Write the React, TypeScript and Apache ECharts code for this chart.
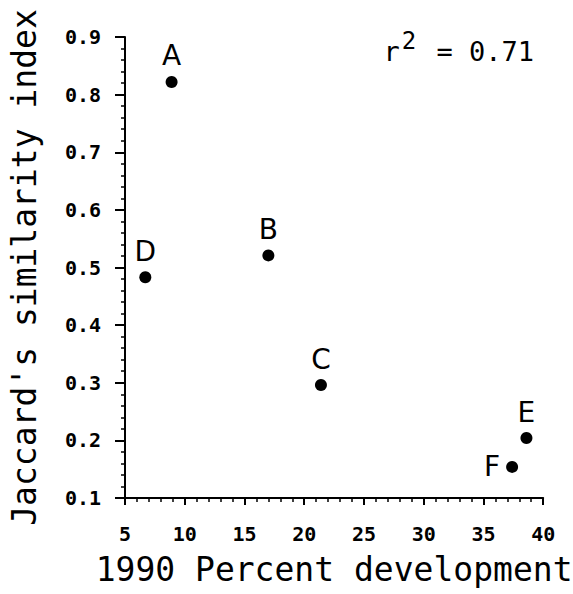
import React, { useEffect, useRef } from "react";
import * as echarts from "echarts";

const siteNames = ["A", "B", "C", "D", "E", "F"];
const percentDevelopment = [8.9, 17.0, 21.4, 6.7, 38.6, 37.4];
const jaccardIndex = [0.822, 0.521, 0.296, 0.483, 0.204, 0.154];
const labelSides = ["top", "top", "top", "top", "top", "left"];
const rSquaredText = "0.71";

const FONT = "'DejaVu Sans', sans-serif";
const MONO = "'DejaVu Sans Mono', monospace";

export default function App() {
  const ref = useRef<HTMLDivElement>(null);
  useEffect(() => {
    document.body.style.margin = "0";
    const chart = echarts.init(ref.current!, null, { renderer: "svg" });
    const data = siteNames.map((n, i) => ({
      name: n,
      value: [percentDevelopment[i], jaccardIndex[i]],
      label: { position: labelSides[i] as any },
    }));
    chart.setOption({
      animation: false,
      backgroundColor: "#fff",
      title: {
        text: "{a|r}{b|2}{a| = " + rSquaredText + "}",
        right: 34,
        top: 24,
        textStyle: {
          fontWeight: "normal",
          rich: {
            a: { fontFamily: MONO, fontSize: 27, fontWeight: "normal", color: "#000", verticalAlign: "bottom", lineHeight: 36 },
            b: { fontFamily: MONO, fontSize: 24, fontWeight: "normal", color: "#000", verticalAlign: "top", lineHeight: 36, padding: [0, 4, 16, 2] },
          },
        },
      },
      grid: { left: 120, top: 37, right: 29, bottom: 96, containLabel: false },
      xAxis: {
        type: "value",
        min: 5,
        max: 40,
        interval: 5,
        name: "1990 Percent development",
        nameLocation: "middle",
        nameGap: 55,
        nameTextStyle: { fontFamily: MONO, fontSize: 33, color: "#000" },
        axisLine: { show: true, lineStyle: { color: "#000", width: 2 } },
        axisTick: { show: true, length: 7, lineStyle: { color: "#000", width: 2 } },
        minorTick: { show: true, splitNumber: 5, length: 4, lineStyle: { color: "#000", width: 1.5 } },
        splitLine: { show: false },
        axisLabel: { fontFamily: MONO, fontSize: 20, fontWeight: "bold", color: "#000", margin: 26 },
      },
      yAxis: {
        type: "value",
        min: 0.1,
        max: 0.9,
        interval: 0.1,
        name: "Jaccard's similarity index",
        nameLocation: "middle",
        nameGap: 84,
        nameTextStyle: { fontFamily: MONO, fontSize: 33, color: "#000" },
        axisLine: { show: true, lineStyle: { color: "#000", width: 2 } },
        axisTick: { show: true, length: 10, lineStyle: { color: "#000", width: 2 } },
        minorTick: { show: true, splitNumber: 5, length: 4, lineStyle: { color: "#000", width: 1.5 } },
        splitLine: { show: false },
        axisLabel: {
          fontFamily: MONO,
          fontSize: 20,
          fontWeight: "bold",
          color: "#000",
          margin: 24,
          formatter: (v: number) => v.toFixed(1),
        },
      },
      series: [
        {
          type: "scatter",
          data,
          symbol: "circle",
          symbolSize: 12,
          itemStyle: { color: "#000", opacity: 1 },
          label: {
            show: true,
            formatter: "{b}",
            fontFamily: FONT,
            fontSize: 28,
            color: "#000",
            distance: 6,
          },
        },
      ],
    });
    return () => chart.dispose();
  }, []);
  return <div ref={ref} style={{ width: 573, height: 594 }} />;
}
